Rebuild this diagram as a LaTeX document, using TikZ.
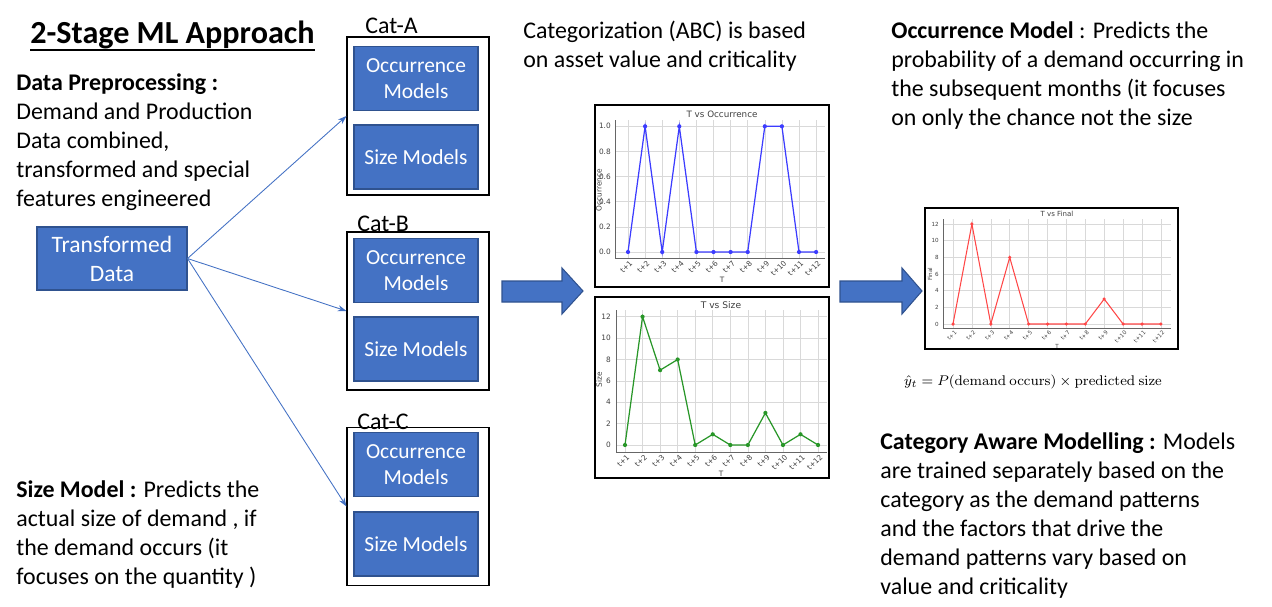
\documentclass[tikz,border=0pt]{standalone}
\usepackage{amsmath}
\usepackage[no-math]{fontspec}
\setmainfont{Carlito}
\newfontfamily\plotfont{DejaVu Sans}
\usetikzlibrary{arrows.meta,positioning}
\definecolor{azulcaja}{RGB}{68,114,196}
\definecolor{bordecaja}{RGB}{47,82,143}
\definecolor{azulgraf}{RGB}{60,60,255}
\definecolor{verdegraf}{RGB}{40,150,40}
\definecolor{rojograf}{RGB}{255,70,70}

\begin{document}
\begin{tikzpicture}[x=0.02cm, y=-0.02cm,
    texto/.style={font=\fontsize{13.6}{16.4}\selectfont, align=left, inner sep=0pt},
    caja/.style={draw=bordecaja, fill=azulcaja, text=white, line width=0.6pt, align=center,
        font=\fontsize{12.2}{14.8}\selectfont, minimum width=2.48cm, minimum height=1.28cm, inner sep=0pt},
    grupo/.style={draw=black, line width=0.6pt, minimum width=2.84cm, minimum height=3.16cm, inner sep=0pt},
    conector/.style={draw=azulcaja, line width=0.5pt, -{Stealth[length=5pt,width=3.5pt]}},
    flecha/.style={fill=azulcaja, draw=bordecaja, line width=0.6pt},
    marco/.style={draw=black, line width=0.9pt},
    rejilla/.style={gray!30, line width=0.3pt},
    eje/.style={black!60, line width=0.5pt},
    etiq/.style={text=black!75, inner sep=0.5pt, font=\plotfont\fontsize{4.2}{5}\selectfont},
    etiqmini/.style={text=black!75, inner sep=0.5pt, font=\plotfont\fontsize{3.2}{4}\selectfont}
]

    % Marco de la figura
    \useasboundingbox (0,0) rectangle (1272,606);

    % Titulo
    \node[inner sep=0pt, font=\fontsize{18.3}{22}\selectfont\bfseries, anchor=base west] (titulo) at (30,43) {2-Stage ML Approach};
    \draw[line width=1.1pt] ([yshift=-0.6pt]titulo.south west) -- ([yshift=-0.6pt]titulo.south east);

    % Textos (anclados en la linea base de la ultima fila)
    \node[texto, anchor=base west] (prepro) at (16,206) {\textbf{Data Preprocessing :}\\Demand and Production\\Data combined,\\transformed and special\\features engineered};
    \node[texto, anchor=base west] (sizetxt) at (16,584) {\textbf{Size Model :} Predicts the\\actual size of demand , if\\the demand occurs (it\\focuses on the quantity )};
    \node[texto, anchor=base west] (cattxt) at (523,67) {Categorization (ABC) is based\\on asset value and criticality};
    \node[texto, anchor=base west] (occtxt) at (891,125) {\textbf{Occurrence Model} : Predicts the\\probability of a demand occurring in\\the subsequent months (it focuses\\on only the chance not the size};
    \node[texto, anchor=base west] (awaretxt) at (880,594) {\textbf{Category Aware Modelling :} Models\\are trained separately based on the\\category as the demand patterns\\and the factors that drive the\\demand patterns vary based on\\value and criticality};

    % Datos transformados
    \node[caja, minimum width=3cm, minimum height=1.26cm, font=\fontsize{13.4}{16.4}\selectfont] (datos) at (112,258.5) {Transformed\\Data};

    % Categorias A, B y C
    \foreach \c/\yc/\yo/\ys/\xl/\yl in {A/116/78.5/157/365/33, B/311/270.5/349/357/231, C/506.5/464.5/544/357/429} {
        \node[grupo] (cat\c) at (418,\yc) {};
        \node[caja] (occ\c) at (416,\yo) {Occurrence\\Models};
        \node[caja] (size\c) at (416,\ys) {Size Models};
        \node[texto, anchor=base west] (lab\c) at (\xl,\yl) {Cat-\c};
        \draw[conector] (datos.east) -- (cat\c.west);
    }

    % Flechas gruesas
    \filldraw[flecha] (502,281) -- (562,281) -- (562,268) -- (583,291) -- (562,314) -- (562,302) -- (502,302) -- cycle;
    \filldraw[flecha] (840,281) -- (902,281) -- (902,268) -- (922,291) -- (902,314) -- (902,302) -- (840,302) -- cycle;

    % Grafica T vs Occurrence
    \draw[marco] (595,105) rectangle (829,287);
    \foreach \i in {0,...,11}
        \draw[rejilla] ({628+\i*17.1},120) -- ({628+\i*17.1},258);
    \foreach \k/\lab in {0/0.0,1/0.2,2/0.4,3/0.6,4/0.8,5/1.0} {
        \draw[rejilla] (615,{252-\k*25.14}) -- (825,{252-\k*25.14});
        \node[etiq, anchor=east] (yo\k) at (612,{252-\k*25.14}) {\lab};
    }
    \draw[eje] (615,120) -- (615,258) -- (825,258);
    \foreach \i in {1,...,12}
        \node[etiq, rotate=45, anchor=east] (xo\i) at ({628+(\i-1)*17.1+4},261) {t+\i};
    \node[etiq, font=\plotfont\fontsize{5}{6}\selectfont] (tito) at (722,114) {T vs Occurrence};
    \node[etiq] (ejto) at (722,280) {T};
    \node[etiq, rotate=90] (ejyo) at (599,190) {Occurrence};
    \foreach \v [count=\i] in {0,1,0,1,0,0,0,0,1,1,0,0}
        \coordinate (o\i) at ({628+(\i-1)*17.1},{252-\v*125.7});
    \draw[azulgraf, line width=0.7pt] (o1) \foreach \i in {2,...,12} {-- (o\i)};
    \foreach \i in {1,...,12}
        \fill[azulgraf] (o\i) circle[radius=1.2pt];

    % Grafica T vs Size
    \draw[marco] (595,297) rectangle (829,478);
    \foreach \i in {0,...,11}
        \draw[rejilla] ({625+\i*17.55},310) -- ({625+\i*17.55},452);
    \foreach \k in {0,2,...,12} {
        \draw[rejilla] (616,{445-\k*10.69}) -- (827,{445-\k*10.69});
        \node[etiq, anchor=east] (ys\k) at (612,{445-\k*10.69}) {\k};
    }
    \draw[eje] (616,310) -- (616,452) -- (827,452);
    \foreach \i in {1,...,12}
        \node[etiq, rotate=45, anchor=east] (xs\i) at ({625+(\i-1)*17.55+4},455) {t+\i};
    \node[etiq, font=\plotfont\fontsize{5.2}{6}\selectfont] (tits) at (721,305) {T vs Size};
    \node[etiq] (ejts) at (721,474) {T};
    \node[etiq, rotate=90] (ejys) at (599,380) {Size};
    \foreach \v [count=\i] in {0,12,7,8,0,1,0,0,3,0,1,0}
        \coordinate (s\i) at ({625+(\i-1)*17.55},{445-\v*10.69});
    \draw[verdegraf, line width=0.7pt] (s1) \foreach \i in {2,...,12} {-- (s\i)};
    \foreach \i in {1,...,12}
        \fill[verdegraf] (s\i) circle[radius=1.2pt];

    % Grafica T vs Final
    \draw[marco] (925,208) rectangle (1178,349);
    \foreach \i in {0,...,11}
        \draw[rejilla] ({953+\i*18.9},219) -- ({953+\i*18.9},328);
    \foreach \k in {0,2,...,12} {
        \draw[rejilla] (943,{324-\k*8.33}) -- (1171,{324-\k*8.33});
        \node[etiqmini, anchor=east] (yf\k) at (940,{324-\k*8.33}) {\k};
    }
    \draw[eje] (943,219) -- (943,328) -- (1171,328);
    \foreach \i in {1,...,12}
        \node[etiqmini, rotate=45, anchor=east] (xf\i) at ({953+(\i-1)*18.9+3.5},331) {t+\i};
    \node[etiqmini, font=\plotfont\fontsize{4}{5}\selectfont] (titf) at (1057,214) {T vs Final};
    \node[etiqmini] (ejtf) at (1057,346) {T};
    \node[etiqmini, rotate=90] (ejyf) at (930,274) {Final};
    \foreach \v [count=\i] in {0,12,0,8,0,0,0,0,3,0,0,0}
        \coordinate (f\i) at ({953+(\i-1)*18.9},{324-\v*8.33});
    \draw[rojograf, line width=0.6pt] (f1) \foreach \i in {2,...,12} {-- (f\i)};
    \foreach \i in {1,...,12}
        \fill[rojograf] (f\i) circle[radius=1pt];

    % Formula
    \node[inner sep=0pt, font=\fontsize{8.3}{10}\selectfont] (formula) at (1033,382) {$\hat{y}_t = P(\mathrm{demand\ occurs}) \times \mathrm{predicted\ size}$};

\end{tikzpicture}
\end{document}
